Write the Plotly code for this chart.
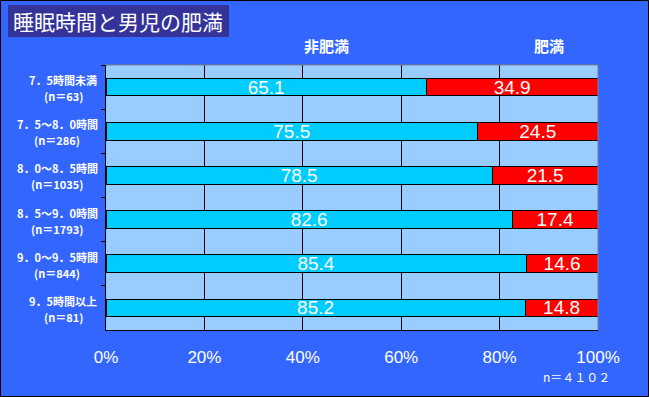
import plotly.graph_objects as go

categories = ["7.5未満", "7.5-8.0", "8.0-8.5", "8.5-9.0", "9.0-9.5", "9.5以上"]
category_line1 = [
    "7．5時間未満",
    "7．5～8．0時間",
    "8．0～8．5時間",
    "8．5～9．0時間",
    "9．0～9．5時間",
    "9．5時間以上",
]
category_line2 = ["(n＝63)", "(n＝286)", "(n＝1035)", "(n＝1793)", "(n＝844)", "(n＝81)"]
non_obese = [65.1, 75.5, 78.5, 82.6, 85.4, 85.2]
obese = [34.9, 24.5, 21.5, 17.4, 14.6, 14.8]
x_ticks = [0, 20, 40, 60, 80, 100]
x_tick_labels = ["0%", "20%", "40%", "60%", "80%", "100%"]
title_text = "睡眠時間と男児の肥満"
series_names = ["非肥満", "肥満"]
note_text = "n＝４１０２"

W, H = 649, 397
PX0, PX1, PY0, PY1 = 106, 598, 65, 330


def px(x):
    return (x - PX0) / (PX1 - PX0)


def py(y):
    return (PY1 - y) / (PY1 - PY0)


JP = "Noto Sans CJK JP"
NUM = "Liberation Sans"
LABEL_SIZE = 11


def text_width(s, size):
    # rough width estimate, used only to centre the second label line
    w = 0.0
    for ch in s:
        if ord(ch) > 0x2000:
            w += 1.0
        elif ch in "()":
            w += 0.33
        else:
            w += 0.56
    return w * size


fig = go.Figure()
fig.add_trace(go.Bar(
    y=categories, x=non_obese, orientation="h", name=series_names[0],
    marker=dict(color="#00CCFF", line=dict(color="black", width=1)),
    texttemplate="%{x:.1f}", textposition="inside", insidetextanchor="middle",
    textfont=dict(color="white", size=19, family=NUM),
))
fig.add_trace(go.Bar(
    y=categories, x=obese, orientation="h", name=series_names[1],
    marker=dict(color="#FF0000", line=dict(color="black", width=1)),
    texttemplate="%{x:.1f}", textposition="inside", insidetextanchor="middle",
    textfont=dict(color="white", size=19, family=NUM),
))

shapes = [
    dict(type="rect", xref="paper", yref="paper",
         x0=px(0.5), x1=px(W - 0.5), y0=py(0.5), y1=py(H - 0.5),
         line=dict(color="black", width=1), layer="below"),
    dict(type="rect", xref="paper", yref="paper",
         x0=px(8), x1=px(229), y0=py(5), y1=py(37),
         fillcolor="#333399", line=dict(width=0), layer="below"),
    dict(type="line", xref="paper", yref="paper", x0=0, x1=1, y0=1, y1=1,
         line=dict(color="#808080", width=1)),
    dict(type="line", xref="paper", yref="paper", x0=1, x1=1, y0=0, y1=1,
         line=dict(color="#808080", width=1)),
]

annotations = [
    dict(text=title_text, xref="paper", yref="paper", x=px(118), y=py(21),
         xanchor="center", yanchor="middle", showarrow=False,
         font=dict(family=JP, size=21, color="white")),
    dict(text=series_names[0], xref="paper", yref="paper", x=px(326), y=py(45),
         xanchor="center", yanchor="middle", showarrow=False,
         font=dict(family=JP, size=15, color="white", weight="bold")),
    dict(text=series_names[1], xref="paper", yref="paper", x=px(549), y=py(45),
         xanchor="center", yanchor="middle", showarrow=False,
         font=dict(family=JP, size=15, color="white", weight="bold")),
    dict(text=note_text, xref="paper", yref="paper", x=px(576), y=py(376),
         xanchor="center", yanchor="middle", showarrow=False,
         font=dict(family=JP, size=12, color="white")),
]
# category labels: two centred lines, block right edge near the axis
LABEL_RIGHT = 97
for cat, l1, l2 in zip(categories, category_line1, category_line2):
    w = max(text_width(l1, LABEL_SIZE), text_width(l2, LABEL_SIZE))
    cx = LABEL_RIGHT - w / 2
    annotations.append(dict(
        text=l1, xref="paper", yref="y", x=px(cx), y=cat, yshift=7,
        xanchor="center", yanchor="middle", showarrow=False, borderpad=0,
        font=dict(family=JP, size=LABEL_SIZE, color="white", weight="bold"),
    ))
    annotations.append(dict(
        text=l2, xref="paper", yref="y", x=px(cx), y=cat, yshift=-9,
        xanchor="center", yanchor="middle", showarrow=False, borderpad=0,
        font=dict(family=JP, size=LABEL_SIZE, color="white", weight="bold"),
    ))

fig.update_layout(
    width=W, height=H,
    margin=dict(l=PX0, r=W - PX1, t=PY0, b=H - PY1, pad=0),
    paper_bgcolor="#3366FF", plot_bgcolor="#99CCFF",
    barmode="stack", bargap=0.6, showlegend=False,
    shapes=shapes, annotations=annotations,
    xaxis=dict(range=[0, 100], tickvals=x_ticks, ticktext=x_tick_labels,
               showgrid=True, gridcolor="black", gridwidth=1,
               showline=True, linecolor="black", linewidth=1,
               zeroline=False, ticks="", automargin=False,
               tickfont=dict(family=NUM, size=17, color="white"),
               ticklabelstandoff=12, fixedrange=True),
    yaxis=dict(autorange="reversed", showgrid=False,
               showline=True, linecolor="black", linewidth=1,
               ticks="outside", tickson="boundaries", ticklen=4, tickcolor="black",
               showticklabels=False, automargin=False, fixedrange=True),
)
fig.update_traces(constraintext="none")

fig.write_html("out.html", post_script="document.body.style.margin='0';",
               config={"displayModeBar": False})
